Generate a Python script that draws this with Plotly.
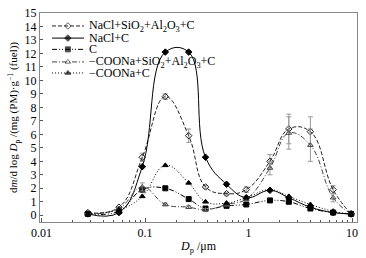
import plotly.graph_objects as go

dp = [0.028, 0.056, 0.094, 0.157, 0.264, 0.384, 0.613, 0.951, 1.61, 2.45, 3.96, 6.57, 9.8]

nacl_si = [0.2, 0.6, 4.3, 8.8, 5.9, 2.1, 1.6, 1.9, 4.0, 6.4, 6.2, 1.9, 0.1]
nacl_si_err = [0, 0, 0.3, 0.2, 0.5, 0.1, 0.1, 0.2, 0.5, 1.1, 1.1, 0.3, 0]
nacl_c = [0.1, 0.2, 3.6, 12.1, 12.1, 4.3, 2.3, 1.3, 1.85, 1.3, 0.6, 0.2, 0.1]
c_only = [0.1, 0.3, 1.9, 2.0, 1.2, 0.5, 0.7, 0.8, 1.1, 1.0, 0.5, 0.2, 0.1]
coona_si = [0.1, 0.5, 2.1, 0.8, 0.6, 0.4, 0.8, 1.2, 3.5, 6.1, 5.2, 1.3, 0.1]
coona_si_err = [0, 0, 0.3, 0.1, 0.1, 0.1, 0.1, 0.1, 0.5, 1.2, 1.2, 0.3, 0]
coona_c = [0.1, 0.4, 1.4, 3.7, 2.4, 1.0, 0.9, 1.3, 1.9, 1.4, 0.8, 0.3, 0.1]

names = ["NaCl+SiO<sub>2</sub>+Al<sub>2</sub>O<sub>3</sub>+C", "NaCl+C", "C",
         "\u2212COONa+SiO<sub>2</sub>+Al<sub>2</sub>O<sub>3</sub>+C", "\u2212COONa+C"]

FAM = "Liberation Serif, Times New Roman, serif"
fig = go.Figure()

styles = [
    (nacl_si, "diamond-open", "4px,2px", "#222222", nacl_si_err),
    (nacl_c, "diamond", "solid", "#000000", None),
    (c_only, "square", "5px,2px,1px,2px,1px,2px", "#000000", None),
    (coona_si, "triangle-up-open", "5px,2px,1px,2px", "#444444", coona_si_err),
    (coona_c, "triangle-up", "1px,2px", "#000000", None),
]

for (y, symbol, dash, color, err), name in zip(styles, names):
    kw = {}
    if err is not None:
        kw["error_y"] = dict(type="data", array=err, visible=True, color="#999999",
                             thickness=1, width=2.5)
    fig.add_trace(go.Scatter(
        x=dp, y=y, name=name, mode="lines+markers", showlegend=False,
        line=dict(color=color, width=1, dash=dash, shape="spline", smoothing=1.2),
        marker=dict(symbol=symbol, size=5, color=color,
                    line=dict(color=color, width=1)),
        **kw))

# manual legend (samples on a hidden overlay axis in plot-area fractions)
leg_rows = [0.938, 0.880, 0.826, 0.766, 0.713]
leg_x0, leg_xm, leg_x1, leg_xt = 0.038, 0.088, 0.139, 0.148
for (y, symbol, dash, color, err), name, ry in zip(styles, names, leg_rows):
    fig.add_trace(go.Scatter(
        x=[leg_x0, leg_xm, leg_x1], y=[ry, ry, ry], xaxis="x2", yaxis="y2",
        mode="lines+markers", showlegend=False, hoverinfo="skip",
        line=dict(color=color, width=1, dash=dash),
        marker=dict(symbol=symbol, size=[0, 5, 0], color=color,
                    line=dict(color=color, width=1))))
    fig.add_annotation(x=leg_xt, y=ry, xref="x2", yref="y2", text=name,
                       showarrow=False, xanchor="left", yanchor="middle",
                       font=dict(family=FAM, size=12, color="#000000"))

fig.update_layout(
    width=366, height=258,
    margin=dict(l=40, r=9, t=13, b=36),
    paper_bgcolor="white", plot_bgcolor="white",
    font=dict(family=FAM, size=12, color="#000000"),
    showlegend=False,
    xaxis=dict(type="log", range=[-2.015, 1.048], automargin=False,
               tickvals=[0.01, 0.1, 1, 10], ticktext=["0.01", "0.1", "1", "10"],
               ticks="inside", ticklen=4, tickcolor="#555555",
               minor=dict(ticks="inside", ticklen=2, tickcolor="#555555",
                          tickvals=[v * d for d in [0.01, 0.1, 1] for v in range(2, 10)]),
               showline=True, linecolor="#888888", linewidth=1, mirror=True,
               showgrid=False, zeroline=False,
               title=dict(text="<i>D</i><sub>p</sub> /\u03bcm", standoff=2,
                          font=dict(size=12))),
    yaxis=dict(range=[-0.5, 15], tickvals=list(range(0, 16)), automargin=False,
               ticks="inside", ticklen=3, tickcolor="#555555",
               showline=True, linecolor="#888888", linewidth=1, mirror=True,
               showgrid=False, zeroline=False,
               title=dict(text="d<i>m</i>/d log <i>D</i><sub>p</sub> /(mg (PM)\u00b7g<sup>\u22121</sup> (fuel))",
                          standoff=4, font=dict(size=11))),
    xaxis2=dict(overlaying="x", range=[0, 1], visible=False, anchor="y2"),
    yaxis2=dict(overlaying="y", range=[0, 1], visible=False, anchor="x2"),
)

fig.write_html("out.html", config={"displayModeBar": False, "staticPlot": True},
               post_script="document.body.style.margin='0';document.body.style.overflow='hidden';")
